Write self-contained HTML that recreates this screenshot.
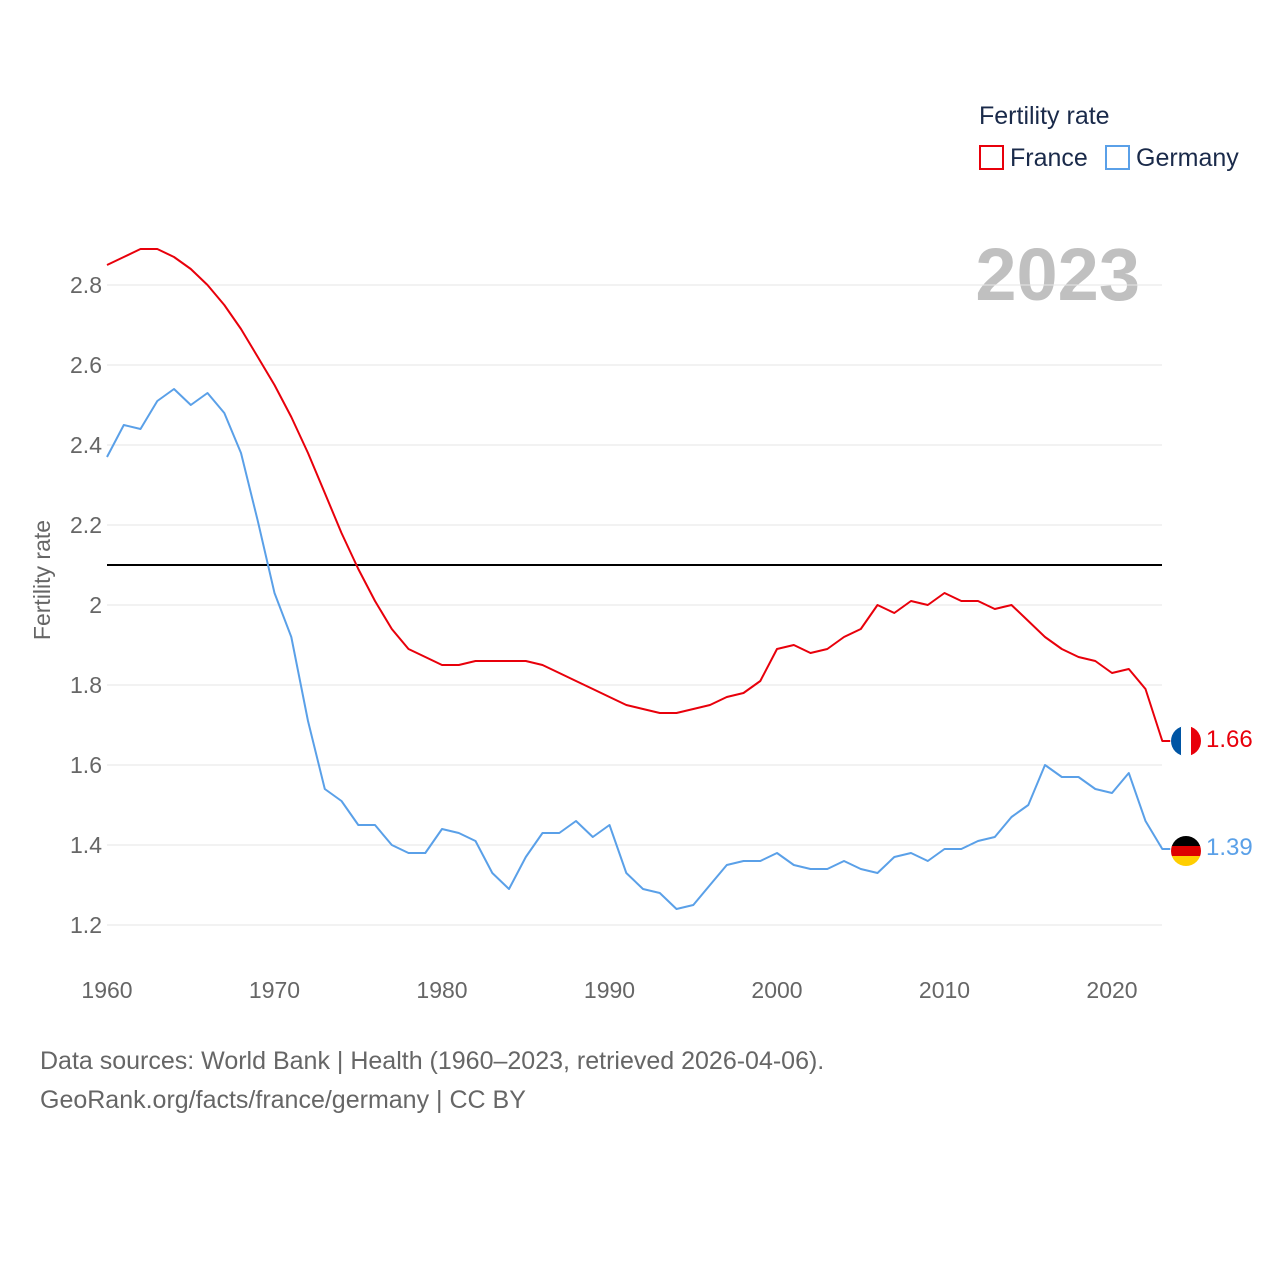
<!DOCTYPE html>
<html><head><meta charset="utf-8"><style>
body{margin:0;background:#fff;font-family:"Liberation Sans",sans-serif}
svg text{font-family:"Liberation Sans",sans-serif}
</style></head><body>
<svg id="chart" width="1280" height="1280" xmlns="http://www.w3.org/2000/svg">
<text x="979" y="124" font-size="25" fill="#1a2a4a">Fertility rate</text>
<rect x="980" y="146" width="23" height="23" fill="none" stroke="#e8000b" stroke-width="2"/>
<text x="1010" y="166" font-size="25" fill="#1a2a4a">France</text>
<rect x="1106" y="146" width="23" height="23" fill="none" stroke="#5aa0e8" stroke-width="2"/>
<text x="1136" y="166" font-size="25" fill="#1a2a4a">Germany</text>
<text x="1140" y="300" font-size="74" font-weight="bold" fill="#c0c0c0" text-anchor="end">2023</text>
<g id="grid"></g><g id="series"></g>
<text transform="translate(50,580) rotate(-90)" font-size="23" fill="#666" text-anchor="middle">Fertility rate</text>
<text x="40" y="1069" font-size="25" fill="#666">Data sources: World Bank | Health (1960–2023, retrieved 2026-04-06).</text>
<text x="40" y="1108" font-size="25" fill="#666">GeoRank.org/facts/france/germany | CC BY</text>
</svg>
<script>
const years=[];for(let y=1960;y<=2023;y++)years.push(y);
const france=[2.85,2.87,2.89,2.89,2.87,2.84,2.80,2.75,2.69,2.62,2.55,2.47,2.38,2.28,2.18,2.09,2.01,1.94,1.89,1.87,1.85,1.85,1.86,1.86,1.86,1.86,1.85,1.83,1.81,1.79,1.77,1.75,1.74,1.73,1.73,1.74,1.75,1.77,1.78,1.81,1.89,1.90,1.88,1.89,1.92,1.94,2.00,1.98,2.01,2.00,2.03,2.01,2.01,1.99,2.00,1.96,1.92,1.89,1.87,1.86,1.83,1.84,1.79,1.66];
const germany=[2.37,2.45,2.44,2.51,2.54,2.50,2.53,2.48,2.38,2.21,2.03,1.92,1.71,1.54,1.51,1.45,1.45,1.40,1.38,1.38,1.44,1.43,1.41,1.33,1.29,1.37,1.43,1.43,1.46,1.42,1.45,1.33,1.29,1.28,1.24,1.25,1.30,1.35,1.36,1.36,1.38,1.35,1.34,1.34,1.36,1.34,1.33,1.37,1.38,1.36,1.39,1.39,1.41,1.42,1.47,1.50,1.60,1.57,1.57,1.54,1.53,1.58,1.46,1.39];
const yTicks=[1.2,1.4,1.6,1.8,2,2.2,2.4,2.6,2.8];
const xTicks=[1960,1970,1980,1990,2000,2010,2020];
const replacement=2.1;
const NS="http://www.w3.org/2000/svg";
const X=y=>107+(y-1960)*16.75;
const Y=v=>285+(2.8-v)*400;
const grid=document.getElementById('grid'),series=document.getElementById('series');
function mk(tag,attrs,parent,txt){const e=document.createElementNS(NS,tag);for(const k in attrs)e.setAttribute(k,attrs[k]);if(txt!==undefined)e.textContent=txt;parent.appendChild(e);return e;}
yTicks.forEach(t=>{
 const l=mk('line',{x1:107,x2:1162,y1:Y(t),y2:Y(t),stroke:'#e6e6e6','stroke-width':1},grid);
 
 
 const tx=mk('text',{x:102,y:Y(t)+8,'font-size':23,fill:'#666','text-anchor':'end'},grid,String(t));
 
 
});
xTicks.forEach(t=>{
 const tx=mk('text',{x:X(t),y:998,'font-size':23,fill:'#666','text-anchor':'middle'},grid,String(t));
 
 
});
const ref=mk('line',{x1:107,x2:1162,y1:Y(replacement),y2:Y(replacement),stroke:'#000','stroke-width':2},series);


function line(vals,color,name){
 let d=vals.map((v,i)=>(i?'L':'M')+X(years[i]).toFixed(1)+' '+Y(v).toFixed(1)).join(' ');
 d+=' L'+(X(years[years.length-1])+8)+' '+Y(vals[vals.length-1]).toFixed(1);
 const p=mk('path',{d:d,fill:'none',stroke:color,'stroke-width':2,'stroke-linejoin':'round'},series);
 
 
}
line(germany,'#5aa0e8','germany-line');
line(france,'#e8000b','france-line');
function flag(cx,cy,cols,vertical,name){
 const g=mk('g',{},series);
 
 
 const id='c'+name;
 const cp=mk('clipPath',{id:id},g);mk('circle',{cx:cx,cy:cy,r:15},cp);
 cols.forEach((c,i)=>{
  const w=30/cols.length;
  if(vertical)mk('rect',{x:cx-15+i*w,y:cy-15,width:w+0.5,height:30,fill:c,'clip-path':'url(#'+id+')'},g);
  else mk('rect',{x:cx-15,y:cy-15+i*w,width:30,height:w+0.5,fill:c,'clip-path':'url(#'+id+')'},g);
 });
}
const fy=Y(france[france.length-1]),gy=Y(germany[germany.length-1]);
flag(1186,fy,['#0055a4','#fff','#e8000b'],true,'france-flag');
flag(1186,gy+2,['#000','#dd0000','#ffce00'],false,'germany-flag');
const fl=mk('text',{x:1206,y:fy+6,'font-size':24,fill:'#e8000b'},series,france[france.length-1].toFixed(2));


const gl=mk('text',{x:1206,y:gy+6,'font-size':24,fill:'#5aa0e8'},series,germany[germany.length-1].toFixed(2));


</script>
</body></html>
